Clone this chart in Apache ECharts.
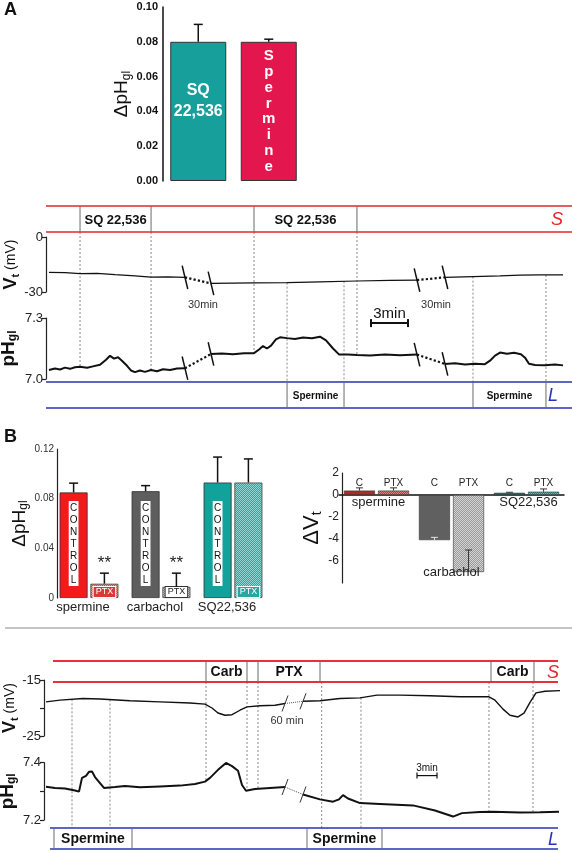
<!DOCTYPE html>
<html><head><meta charset="utf-8">
<script src="https://cdn.jsdelivr.net/npm/echarts@6.0.0/dist/echarts.min.js"></script>
<style>html,body{margin:0;padding:0;background:#fff;}#c{width:572px;height:852px;}</style>
</head><body><div id="c"></div>
<script>
const FONT = '"Liberation Sans", Arial, Helvetica, sans-serif';

// ================= DATA =================
// Panel A – bar chart
const aBarCats = ['SQ 22,536', 'Spermine'];
const aBarVals = [0.080, 0.080];
const aBarErrs = [0.010, 0.0015];

// Panel A – traces  [displayed time (min), value]
const aVtSeg1 = [[0.24,-19.3],[1.54,-19.4],[2.76,-20.0],[4.14,-19.8],[5.6,-20.5],[7.22,-21.2],[8.52,-21.9],[9.89,-21.8],[11.27,-22.0]];
const aVtSeg2 = [[13.38,-25.3],[16.87,-25.0],[19.55,-24.9],[22.22,-24.5],[25.22,-24.0],[27.9,-23.7],[30.09,-23.5]];
const aVtSeg3 = [[32.36,-22.0],[34.63,-21.6],[36.82,-21.2],[38.44,-20.8],[40.06,-20.7],[41.93,-20.7]];
const aPhSeg1 = [[0.24,7.044],[0.73,7.052],[1.14,7.047],[1.54,7.056],[1.95,7.050],[2.35,7.058],[2.76,7.060],[3.33,7.055],[3.81,7.062],[4.38,7.070],[4.87,7.095],[5.19,7.114],[5.52,7.100],[5.84,7.107],[6.16,7.090],[6.57,7.065],[6.89,7.042],[7.22,7.034],[7.62,7.042],[8.03,7.035],[8.52,7.044],[9.0,7.038],[9.49,7.048],[10.06,7.044],[10.62,7.052],[11.27,7.053]];
const aPhSeg2 = [[13.38,7.123],[14.27,7.126],[15.17,7.122],[16.06,7.127],[16.87,7.127],[17.28,7.145],[17.6,7.162],[17.92,7.150],[18.25,7.164],[18.65,7.195],[18.98,7.205],[19.55,7.201],[20.19,7.197],[20.84,7.204],[21.57,7.200],[22.22,7.208],[22.71,7.190],[23.28,7.150],[23.76,7.121],[24.49,7.120],[25.22,7.118],[26.28,7.116],[27.49,7.121],[28.71,7.117],[30.09,7.120]];
const aPhSeg3 = [[32.36,7.074],[33.17,7.077],[33.98,7.071],[34.79,7.075],[35.6,7.073],[36.01,7.090],[36.42,7.115],[36.82,7.130],[37.39,7.124],[37.96,7.129],[38.52,7.122],[38.85,7.105],[39.17,7.075],[39.66,7.069],[40.47,7.068],[41.28,7.071],[41.93,7.067]];
const aSQ = [[2.76, 8.52], [16.87, 25.22]];
const aSpermine = [[19.55, 24.17], [34.63, 40.55]];
const aGapLabel = '30min';

// Panel B – left bar chart (ΔpHgl)
const bCats = ['spermine', 'carbachol', 'SQ22,536'];
const bCtrlVals = [0.085, 0.086, 0.093];
const bCtrlErrs = [0.0075, 0.0045, 0.0205];
const bPtxVals = [0.0115, 0.009, 0.093];
const bPtxErrs = [0.0085, 0.011, 0.019];
const bSig = ['**', '**', ''];
const bSeriesNames = ['CONTROL', 'PTX'];

// Panel B – right bar chart (ΔVt)
const vCtrlVals = [0.4, -4.1, 0.2];
const vCtrlErrs = [0.25, 0.25, 0.05];
const vPtxVals = [0.4, -7.0, 0.3];
const vPtxErrs = [0.25, 2.0, 0.25];
const vSeriesNames = ['C', 'PTX'];

// Bottom panel – traces
const cVtSeg1 = [[0.3,-18.9],[2.4,-18.6],[5.85,-18.3],[8.4,-18.4],[12.9,-18.7],[17.4,-18.9],[21.9,-19.1],[24.15,-19.3],[25.2,-20.0],[26.1,-20.9],[27.15,-21.3],[28.2,-21.2],[29.4,-20.4],[30.45,-19.8],[32.4,-19.6],[34.65,-19.5],[36.15,-19.2]];
const cVtSeg2 = [[38.85,-18.8],[41.4,-18.7],[44.4,-18.3],[47.4,-18.2],[49.95,-17.7],[53.4,-17.7],[57.9,-17.8],[62.4,-18.0],[66.75,-18.0],[67.65,-18.6],[68.85,-20.2],[69.9,-21.3],[71.1,-21.6],[72.0,-20.9],[72.9,-19.0],[73.8,-17.3],[75.15,-17.0],[77.4,-16.9]];
const cPhSeg1 = [[0.3,7.316],[1.65,7.312],[3.15,7.310],[4.65,7.303],[5.25,7.299],[5.7,7.347],[6.3,7.354],[6.75,7.368],[7.2,7.369],[7.65,7.350],[8.4,7.329],[9.0,7.312],[10.65,7.315],[12.15,7.319],[14.4,7.314],[17.4,7.317],[20.4,7.320],[22.65,7.326],[24.15,7.334],[24.9,7.347],[26.1,7.375],[27.3,7.399],[28.2,7.388],[29.1,7.372],[29.7,7.322],[30.3,7.302],[31.65,7.308],[33.9,7.312],[36.15,7.315]];
const cPhSeg2 = [[38.85,7.289],[41.4,7.272],[43.35,7.264],[44.25,7.272],[44.85,7.287],[45.6,7.275],[47.4,7.259],[50.4,7.256],[55.35,7.251],[58.65,7.233],[61.35,7.212],[62.7,7.224],[65.4,7.228],[67.35,7.229],[71.4,7.226],[74.4,7.227],[77.25,7.229]];
const cCarb = [[24.3, 30.45], [67.05, 73.5]];
const cPTX = [[32.1, 41.4]];
const cSpermine = [[1.5, 13.2], [39.45, 50.7]];
const cDashBandToPh = [24.3, 30.45, 32.1, 66.75, 73.35];
const cDashBandToL = [41.65];
const cDashVtToL = [4.2, 9.9, 47.55];
const cGapLabel = '60 min';
const scaleLabel = '3min';

// ================= LAYOUT / STYLE =================
const AMAX = 42.66, CMAX = 77.4;
const aVt = [aVtSeg1, aVtSeg2, aVtSeg3], aPh = [aPhSeg1, aPhSeg2, aPhSeg3];
const cVt = [cVtSeg1, cVtSeg2], cPh = [cPhSeg1, cPhSeg2];

function pattern(base, alt) {
  const c = document.createElement('canvas'); c.width = 4; c.height = 4;
  const g = c.getContext('2d'); g.fillStyle = base; g.fillRect(0, 0, 4, 4);
  g.fillStyle = alt;
  for (let y = 0; y < 4; y++) for (let x = 0; x < 4; x++) if ((x + y) % 2 === 0) g.fillRect(x, y, 1, 1);
  return { image: c, repeat: 'repeat' };
}

const chart = echarts.init(document.getElementById('c'), null, { renderer: 'canvas' });

function gridBox(left, top, width, height) { return { left, top, width, height, containLabel: false, outerBoundsMode: 'none' }; }
function hidX(g, max) { return { gridIndex: g, type: 'value', min: 0, max, show: false }; }
function hidY(g) { return { gridIndex: g, type: 'value', min: 0, max: 1, show: false }; }
const richName = (big, small) => ({
  b: { fontSize: big, fontWeight: 'bold', fontFamily: FONT, color: '#111' },
  s: { fontSize: Math.round(big * 0.62), fontWeight: 'bold', fontFamily: FONT, color: '#111', padding: [small, 0, 0, 0] },
  d: { fontSize: big, fontFamily: FONT, color: '#111' },
  ds: { fontSize: Math.round(big * 0.62), fontFamily: FONT, color: '#111', padding: [small, 0, 0, 0] },
  n: { fontSize: 14, fontFamily: FONT, color: '#111' }
});
function traceY(g, min, max, interval, fmt, name, rich, nameGap) {
  return {
    gridIndex: g, type: 'value', min, max, interval, name, nameLocation: 'middle', nameRotate: 90, nameGap, nameMoveOverlap: false,
    nameTextStyle: { rich, fontFamily: FONT },
    axisLine: { show: true, onZero: false, lineStyle: { color: '#222', width: 1.2 } },
    axisTick: { show: true, length: 4, lineStyle: { color: '#222', width: 1.2 } },
    axisLabel: { formatter: fmt, fontSize: 13, fontFamily: FONT, color: '#222', margin: 3 },
    splitLine: { show: false }
  };
}

function errSeries(g, data, off, capW, colorFn, lw, sig) {
  return {
    type: 'custom', xAxisIndex: g, yAxisIndex: g, z: 6, silent: true, data,
    renderItem(params, api) {
      const i = api.value(0), v = api.value(1), e = api.value(2);
      const a = api.coord([i, v]), b = api.coord([i, v + e]);
      const x = a[0] + off, col = colorFn(params.dataIndex, v);
      const ch = [
        { type: 'line', shape: { x1: x, y1: a[1], x2: x, y2: b[1] }, style: { stroke: col, lineWidth: lw } },
        { type: 'line', shape: { x1: x - capW / 2, y1: b[1], x2: x + capW / 2, y2: b[1] }, style: { stroke: col, lineWidth: lw } }
      ];
      if (sig && sig[params.dataIndex]) ch.push({ type: 'text', style: { text: sig[params.dataIndex], x, y: b[1] - 1, align: 'center', verticalAlign: 'bottom', font: '17px ' + FONT, fill: '#222' } });
      return { type: 'group', children: ch };
    }
  };
}
function traceSeries(g, segs, w, dotW, dotColor) {
  const out = segs.map(d => ({ type: 'line', xAxisIndex: g, yAxisIndex: g, data: d, symbol: 'none', silent: true, z: 3, lineStyle: { color: '#111', width: w } }));
  for (let i = 0; i < segs.length - 1; i++) {
    out.push({ type: 'line', xAxisIndex: g, yAxisIndex: g, data: [segs[i][segs[i].length - 1], segs[i + 1][0]], symbol: 'none', silent: true, z: 3, lineStyle: { color: dotColor, width: dotW, type: 'dotted' } });
  }
  return out;
}

const aColors = ['#17a09b', '#e3174d'];
const bCtrlColors = ['#f21a1a', '#5e5e5e', '#13a19b'];
const bPtxColors = [pattern('#e04848', '#f59a9a'), pattern('#8c8c8c', '#d2d2d2'), pattern('#2aa6a0', '#90d8d4')];
const bPtxLabelStyle = [
  { color: '#fff', backgroundColor: '#d83a3a', borderColor: '#fff', borderWidth: 1 },
  { color: '#222', backgroundColor: '#fff', borderColor: '#333', borderWidth: 1 },
  { color: '#fff', backgroundColor: '#2aa6a0', borderColor: '#fff', borderWidth: 1 }
];
const vCtrlColors = ['#b02a2a', '#606060', '#236e67'];
const vPtxColors = [pattern('#b83c3c', '#dc8585'), pattern('#9a9a9a', '#d4d4d4'), pattern('#2a7d76', '#72b8b0')];

const option = {
  animation: false,
  backgroundColor: '#fff',
  grid: [
    gridBox(163, 7, 141, 174),      // 0 A bars
    gridBox(46, 206, 526, 26),      // 1 A S band
    gridBox(46, 237, 526, 55),      // 2 A Vt
    gridBox(46, 318, 526, 61),      // 3 A pH
    gridBox(46, 382, 526, 26),      // 4 A L band
    gridBox(53, 449, 216, 149),     // 5 B left
    gridBox(339, 473, 225, 110),    // 6 B right
    gridBox(44, 661, 516, 21),      // 7 C S band
    gridBox(44, 680, 516, 56),      // 8 C Vt
    gridBox(44, 762.7, 516, 57.3),  // 9 C pH
    gridBox(44, 828, 516, 21)       // 10 C L band
  ],
  xAxis: [
    { gridIndex: 0, type: 'category', data: aBarCats, axisLine: { show: false }, axisTick: { show: false }, axisLabel: { show: false } },
    hidX(1, AMAX), hidX(2, AMAX), hidX(3, AMAX), hidX(4, AMAX),
    { gridIndex: 5, type: 'category', data: bCats, axisLine: { show: false }, axisTick: { show: false },
      axisLabel: { interval: 0, margin: 3, formatter: v => '{a|' + v + '}', rich: { a: { fontSize: 13, fontFamily: FONT, color: '#222', padding: [0, 12, 0, 0] } } } },
    { gridIndex: 6, type: 'category', data: bCats, axisLine: { show: true, onZero: true, lineStyle: { color: '#111', width: 1.5 } }, axisTick: { show: false },
      axisLabel: { show: false } },
    hidX(7, CMAX), hidX(8, CMAX), hidX(9, CMAX), hidX(10, CMAX)
  ],
  yAxis: [
    { gridIndex: 0, type: 'value', min: 0, max: 0.10, interval: 0.02, name: '{d|ΔpH}{ds|gl}', nameLocation: 'middle', nameRotate: 90, nameGap: 30,
      nameTextStyle: { rich: richName(19, 9) },
      axisLine: { show: true, lineStyle: { color: '#111', width: 1.5 } }, axisTick: { length: 5, lineStyle: { color: '#111', width: 1.5 } },
      axisLabel: { formatter: v => v.toFixed(2), fontSize: 11, fontWeight: 'bold', fontFamily: FONT, color: '#111', margin: 5 }, splitLine: { show: false } },
    hidY(1),
    traceY(2, -30, 0, 30, v => String(v), '{b|V}{s|t}{n| (mV)}', richName(18, 9), 25),
    traceY(3, 7.0, 7.3, 0.3, v => v.toFixed(1), '{b|pH}{s|gl}', richName(19, 9), 27),
    hidY(4),
    { gridIndex: 5, type: 'value', min: 0, max: 0.12, interval: 0.02, offset: -4, name: '{d|ΔpH}{ds|gl}', nameLocation: 'middle', nameRotate: 90, nameGap: 27,
      nameTextStyle: { rich: richName(19, 9) },
      axisLine: { show: true, lineStyle: { color: '#222', width: 1.2 } }, axisTick: { length: 4, lineStyle: { color: '#222', width: 1.2 } },
      axisLabel: { formatter: v => { const k = Math.round(v / 0.02); return k === 0 ? '0' : (k % 2 === 0 ? v.toFixed(2) : ''); }, fontSize: 10, fontFamily: FONT, color: '#333', margin: 3 },
      splitLine: { show: false } },
    { gridIndex: 6, type: 'value', min: -8, max: 2, interval: 2, offset: -3, name: '{d|ΔV}{ds|t}', nameLocation: 'middle', nameRotate: 90, nameGap: 18,
      nameTextStyle: { rich: richName(22, 10) },
      axisLine: { show: true, onZero: false, lineStyle: { color: '#222', width: 1.2 } }, axisTick: { length: 4, lineStyle: { color: '#222', width: 1.2 } },
      axisLabel: { formatter: v => (v === -8 ? '' : String(v)), fontSize: 12, fontFamily: FONT, color: '#222', margin: 3 },
      splitLine: { show: false } },
    hidY(7),
    traceY(8, -25, -15, 5, v => (v === -20 ? '' : String(v)), '{b|V}{s|t}{n| (mV)}', richName(18, 9), 24),
    traceY(9, 7.2, 7.4, 0.1, v => (Math.abs(v - 7.3) < 1e-6 ? '' : v.toFixed(1)), '{b|pH}{s|gl}', richName(19, 9), 26),
    hidY(10)
  ],
  series: [
    // Panel A bars
    { type: 'bar', xAxisIndex: 0, yAxisIndex: 0, barWidth: 56, z: 3,
      itemStyle: { borderColor: '#333', borderWidth: 1 },
      data: aBarVals.map((v, i) => ({
        value: v, itemStyle: { color: aColors[i] },
        label: i === 0
          ? { show: true, position: 'inside', offset: [0, -10], formatter: aBarCats[i].replace(' ', '\n'), color: '#fff', fontWeight: 'bold', fontSize: 16, lineHeight: 21, fontFamily: FONT }
          : { show: true, position: 'inside', formatter: aBarCats[i].split('').join('\n'), color: '#fff', fontWeight: 'bold', fontSize: 15, lineHeight: 15.8, fontFamily: FONT }
      })) },
    errSeries(0, aBarVals.map((v, i) => [i, v, aBarErrs[i]]), 0, 9, () => '#111', 1.5),

    // Panel A traces
    ...traceSeries(2, aVt, 1.2, 2.2, '#111'),
    ...traceSeries(3, aPh, 2.0, 2.2, '#111'),

    // Panel B left
    { type: 'bar', name: bSeriesNames[0], xAxisIndex: 5, yAxisIndex: 5, barWidth: 28, barGap: '10%', z: 3,
      itemStyle: { borderColor: '#333', borderWidth: 0.8 },
      label: { show: true, position: 'insideBottom', distance: 12, formatter: bSeriesNames[0].split('').join('\n'),
        color: '#111', backgroundColor: '#fff', fontSize: 10, lineHeight: 12, padding: [1, 1, 0, 1], fontFamily: FONT },
      data: bCtrlVals.map((v, i) => ({ value: v, itemStyle: { color: bCtrlColors[i] } })) },
    { type: 'bar', name: bSeriesNames[1], xAxisIndex: 5, yAxisIndex: 5, barWidth: 28, barGap: '10%', z: 3,
      itemStyle: { borderColor: '#444', borderWidth: 0.8 },
      data: bPtxVals.map((v, i) => ({ value: v, itemStyle: { color: bPtxColors[i] },
        label: Object.assign({ show: true, position: 'insideBottom', distance: 1, formatter: bSeriesNames[1], fontSize: 9, lineHeight: 10, padding: [0, 2, 0, 2], fontFamily: FONT }, bPtxLabelStyle[i]) })) },
    errSeries(5, bCtrlVals.map((v, i) => [i, v, bCtrlErrs[i]]), -15.4, 9, () => '#111', 1.5),
    errSeries(5, bPtxVals.map((v, i) => [i, v, bPtxErrs[i]]), 15.4, 9, () => '#111', 1.5, bSig),

    // Panel B right
    { type: 'bar', name: vSeriesNames[0], xAxisIndex: 6, yAxisIndex: 6, barWidth: 31, barGap: '10%', z: 3,
      itemStyle: { borderColor: '#333', borderWidth: 0.6 },
      data: vCtrlVals.map((v, i) => ({ value: v, itemStyle: { color: vCtrlColors[i] } })) },
    { type: 'bar', name: vSeriesNames[1], xAxisIndex: 6, yAxisIndex: 6, barWidth: 31, barGap: '10%', z: 3,
      itemStyle: { borderColor: '#333', borderWidth: 0.6 },
      data: vPtxVals.map((v, i) => ({ value: v, itemStyle: { color: vPtxColors[i] } })) },
    errSeries(6, vCtrlVals.map((v, i) => [i, v, vCtrlErrs[i]]), -17.05, 7, (i, v) => (v < 0 ? '#e6e6e6' : '#333'), 1),
    errSeries(6, vPtxVals.map((v, i) => [i, v, vPtxErrs[i]]), 17.05, 7, () => '#333', 1),
    { type: 'custom', xAxisIndex: 6, yAxisIndex: 6, z: 7, silent: true, data: bCats.map((c, i) => [i, 0]),
      renderItem(params, api) {
        const i = api.value(0);
        const z = api.coord([i, 0]);
        const ch = vSeriesNames.map((n, k) => ({ type: 'text', style: { text: n, x: z[0] + (k === 0 ? -17.05 : 17.05), y: z[1] - 7, align: 'center', verticalAlign: 'bottom', font: '10px ' + FONT, fill: '#222' } }));
        const low = Math.min(vCtrlVals[i], vPtxVals[i]) < -1;
        const yb = low ? api.coord([i, -8])[1] - 4 : z[1] + 1;
        ch.push({ type: 'text', style: { text: bCats[i], x: z[0] + (low ? 0 : 2), y: yb, align: 'center', verticalAlign: low ? 'bottom' : 'top', font: '13px ' + FONT, fill: '#222' } });
        return { type: 'group', children: ch };
      } },

    // Bottom traces
    ...traceSeries(8, cVt, 1.4, 1, '#555'),
    ...traceSeries(9, cPh, 2.0, 1, '#555')
  ]
};
chart.setOption(option);

// ================= OVERLAY (positions via the chart's own scales) =================
const P = (g, x, y) => chart.convertToPixel({ gridIndex: g }, [x, y]);
const G = [];
const RED = '#e3262b', BLUE = '#2733b5', DIV = '#6a6a6a', DASH = '#8a8a8a';
function seg(a, b, stroke, w, dash, z) {
  G.push({ type: 'line', z: z == null ? 10 : z, silent: true, shape: { x1: a[0], y1: a[1], x2: b[0], y2: b[1] }, style: { stroke, lineWidth: w, lineDash: dash || null } });
}
function txt(x, y, text, font, fill, align, valign) {
  G.push({ type: 'text', z: 11, silent: true, x, y, style: { text, font, fill, align: align || 'center', verticalAlign: valign || 'middle' } });
}
function valAt(segs, t) {
  const pts = [].concat(...segs);
  for (let i = 0; i < pts.length - 1; i++) {
    if (t >= pts[i][0] && t <= pts[i + 1][0]) { const f = (t - pts[i][0]) / (pts[i + 1][0] - pts[i][0]); return pts[i][1] + f * (pts[i + 1][1] - pts[i][1]); }
  }
  return t < pts[0][0] ? pts[0][1] : pts[pts.length - 1][1];
}
function band(g, t0, t1, color, boxes, label, font, letter, letterDx) {
  seg(P(g, t0, 1), P(g, t1, 1), color, 1.5);
  seg(P(g, t0, 0), P(g, t1, 0), color, 1.5);
  boxes.forEach(([a, b]) => {
    seg(P(g, a, 0), P(g, a, 1), DIV, 1);
    seg(P(g, b, 0), P(g, b, 1), DIV, 1);
    const m = P(g, (a + b) / 2, 0.5);
    txt(m[0], m[1] + 1, label, font, '#111');
  });
  if (letter) { const e = P(g, t1, 0.5); txt(e[0] - letterDx, e[1] + 1, letter, 'italic 18px ' + FONT, color); }
}
function breaks(g, segs, dx, dy, w, color) {
  const xs = [];
  for (let i = 0; i < segs.length - 1; i++) {
    const a = segs[i][segs[i].length - 1], b = segs[i + 1][0];
    const pa = P(g, a[0], a[1]), pb = P(g, b[0], b[1]);
    [pa, pb].forEach(q => seg([q[0] - dx, q[1] - dy], [q[0] + dx, q[1] + dy], color, w));
    xs.push((pa[0] + pb[0]) / 2);
  }
  return xs;
}
function scaleBar(g, t, v, len, font, w, cap, gapY) {
  const a = P(g, t, v), b = P(g, t + len, v);
  seg(a, b, '#111', w); seg([a[0], a[1] - cap], [a[0], a[1] + cap], '#111', w); seg([b[0], b[1] - cap], [b[0], b[1] + cap], '#111', w);
  txt((a[0] + b[0]) / 2, a[1] - gapY, scaleLabel, font, '#111', 'center', 'bottom');
}

// Panel labels & separator
txt(4, 10, 'A', 'bold 18px ' + FONT, '#111', 'left', 'middle');
txt(4, 437, 'B', 'bold 18px ' + FONT, '#111', 'left', 'middle');
G.push({ type: 'line', z: 10, silent: true, shape: { x1: 5, y1: 628, x2: 572, y2: 628 }, style: { stroke: '#b0b0b0', lineWidth: 1.5 } });

// Panel A bands
band(1, 0, AMAX, RED, aSQ, 'SQ 22,536', 'bold 13px ' + FONT, 'S', 15);
band(4, 0, AMAX, BLUE, aSpermine, 'Spermine', 'bold 10px ' + FONT, 'L', 19);
aSQ.forEach(b => b.forEach(t => seg(P(1, t, 0), P(3, t, valAt(aPh, t)), DASH, 1, [2, 2], 1)));
aSpermine.forEach(b => b.forEach(t => seg(P(2, t, valAt(aVt, t)), P(4, t, 1), DASH, 1, [2, 2], 1)));
const aMid = breaks(2, aVt, 2.8, 11.7, 1.5, '#111');
breaks(3, aPh, 2.8, 11.7, 1.5, '#111');
aMid.forEach(x => txt(x + 5, P(2, 0, -30)[1] + 13, aGapLabel, '11px ' + FONT, '#333'));
scaleBar(3, 26.36, 7.275, 3, '15px ' + FONT, 2, 4, 2);

// Bottom bands
band(7, 1.35, 77.1, RED, cCarb, 'Carb', 'bold 14px ' + FONT, 'S', 5);
band(7, 1.35, 77.1, RED, cPTX, 'PTX', 'bold 14px ' + FONT, '', 5);
band(10, 0.9, 77.1, BLUE, cSpermine, 'Spermine', 'bold 14px ' + FONT, 'L', 5);
cDashBandToPh.forEach(t => seg(P(7, t, 0), P(9, t, valAt(cPh, t)), DASH, 1, [2, 2], 1));
cDashBandToL.forEach(t => seg(P(7, t, 0), P(10, t, 1), DASH, 1, [2, 2], 1));
cDashVtToL.forEach(t => seg(P(8, t, valAt(cVt, t)), P(10, t, 1), DASH, 1, [2, 2], 1));
const cMid = breaks(8, cVt, -3, 8, 1, '#333');
breaks(9, cPh, -3, 8, 1, '#333');
cMid.forEach(x => txt(x - 7, P(8, 0, -25)[1] - 15, cGapLabel, '11px ' + FONT, '#333'));
scaleBar(9, 55.95, 7.355, 3, '10px ' + FONT, 1.2, 3, 2);

chart.setOption({ graphic: G });
</script></body></html>
